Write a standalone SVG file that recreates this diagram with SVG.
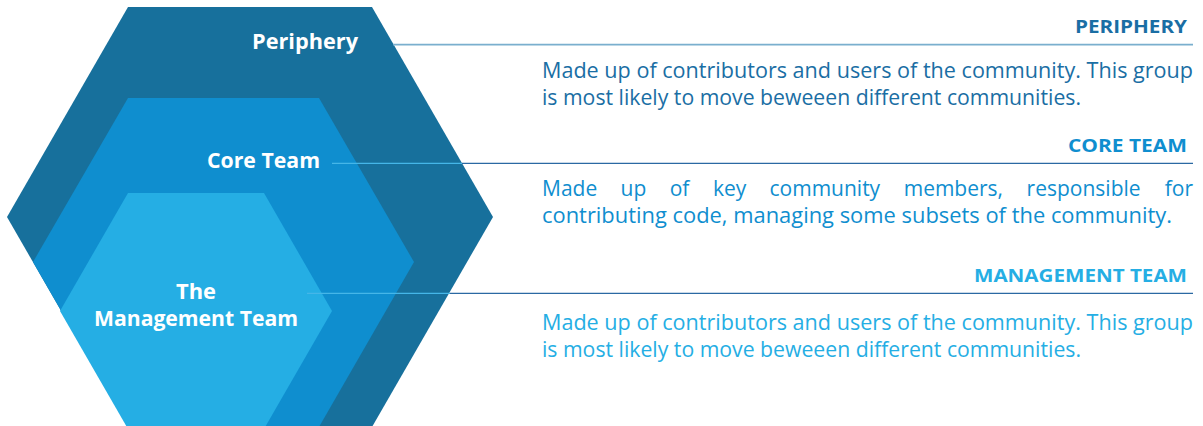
<svg xmlns="http://www.w3.org/2000/svg" width="1203" height="426" viewBox="0 0 1203 426">
  <style>
    .label { font-family: "Open Sans", "Noto Sans", sans-serif; font-weight: 700; font-size: 21px; fill: #ffffff; }
    .head { font-family: "Open Sans", "Noto Sans", sans-serif; font-weight: 700; font-size: 18px; text-anchor: end; }
    .desc { font-family: "Open Sans", "Noto Sans", sans-serif; font-size: 21px; }
    .c-dark { fill: #1a6ea4; }
    .c-mid { fill: #0f8ecf; }
    .c-light { fill: #25aee4; }
    .lead-in { stroke: #45b6e8; stroke-width: 1.3; fill: none; }
    .lead-out { stroke: #2b69a3; stroke-width: 1.3; fill: none; }
    .lead-soft { stroke: #7aafce; stroke-width: 1.8; fill: none; }
  </style>

  <!-- nested hexagons, outermost first -->
  <g id="periphery">
    <polygon points="128,7 372,7 493,217 372,427 128,427 7,217" fill="#17709c"/>
    <text class="label" x="358" y="49" text-anchor="end" textLength="106" lengthAdjust="spacingAndGlyphs">Periphery</text>
  </g>
  <g id="core-team">
    <polygon points="128,98 319,98 414,262 319,427 128,427 33,262" fill="#0f8ecf"/>
    <text class="label" x="320" y="168" text-anchor="end" textLength="113" lengthAdjust="spacingAndGlyphs">Core Team</text>
  </g>
  <g id="management-team">
    <polygon points="128,193 264,193 332,311 264,429 128,429 60,311" fill="#25aee4"/>
    <text class="label" x="196" y="299" text-anchor="middle" textLength="40" lengthAdjust="spacingAndGlyphs">The</text>
    <text class="label" x="196" y="326" text-anchor="middle" textLength="204" lengthAdjust="spacingAndGlyphs">Management Team</text>
  </g>

  <!-- leader lines from each ring to its description -->
  <g id="connectors">
    <line class="lead-soft" x1="393" y1="44.7" x2="1193" y2="44.7"/>
    <line class="lead-in" x1="332" y1="163.3" x2="462" y2="163.3"/>
    <line class="lead-out" x1="462" y1="163.3" x2="1193" y2="163.3"/>
    <line class="lead-in" x1="307" y1="293.3" x2="450" y2="293.3"/>
    <line class="lead-out" x1="450" y1="293.3" x2="1193" y2="293.3"/>
  </g>

  <!-- descriptions -->
  <g id="periphery-text">
    <text class="head c-dark" x="1187" y="33" textLength="112" lengthAdjust="spacingAndGlyphs">PERIPHERY</text>
    <text class="desc c-dark" x="542" y="78" textLength="651" lengthAdjust="spacingAndGlyphs">Made up of contributors and users of the community. This group</text>
    <text class="desc c-dark" x="542" y="104.5" textLength="539" lengthAdjust="spacingAndGlyphs">is most likely to move beweeen different communities.</text>
  </g>
  <g id="core-team-text">
    <text class="head c-mid" x="1187" y="152" textLength="119" lengthAdjust="spacingAndGlyphs">CORE TEAM</text>
    <text class="desc c-mid" y="196"><tspan x="542">Made</tspan><tspan x="620.6">up</tspan><tspan x="669.7">of</tspan><tspan x="712.9">key</tspan><tspan x="769.5">community</tspan><tspan x="903.7">members,</tspan><tspan x="1026.6">responsible</tspan></text>
    <text class="desc c-mid" x="1193" y="196" text-anchor="end">for</text>
    <text class="desc c-mid" x="542" y="222.5" textLength="630" lengthAdjust="spacingAndGlyphs">contributing code, managing some subsets of the community.</text>
  </g>
  <g id="management-team-text">
    <text class="head c-light" x="1187" y="282" textLength="213" lengthAdjust="spacingAndGlyphs">MANAGEMENT TEAM</text>
    <text class="desc c-light" x="542" y="330" textLength="651" lengthAdjust="spacingAndGlyphs">Made up of contributors and users of the community. This group</text>
    <text class="desc c-light" x="542" y="356.5" textLength="539" lengthAdjust="spacingAndGlyphs">is most likely to move beweeen different communities.</text>
  </g>
</svg>
